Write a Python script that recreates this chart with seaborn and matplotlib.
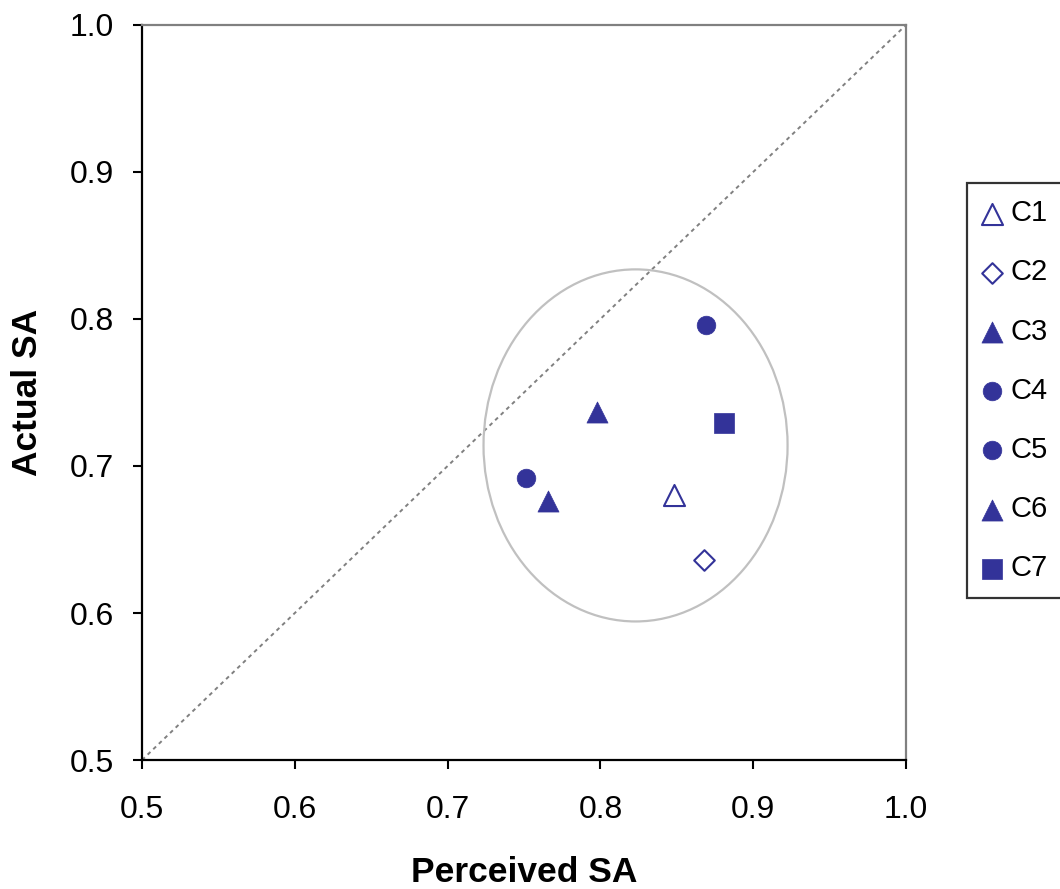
import matplotlib
matplotlib.use("Agg")
import matplotlib.pyplot as plt
import seaborn as sns
import pandas as pd
from matplotlib.patches import Ellipse

# Data
labels = ["C1", "C2", "C3", "C4", "C5", "C6", "C7"]
perceived = [0.848, 0.868, 0.798, 0.869, 0.751, 0.766, 0.881]
actual = [0.680, 0.636, 0.737, 0.796, 0.692, 0.676, 0.729]
markers = ["^", "D", "^", "o", "o", "^", "s"]
filled = [False, False, True, True, True, True, True]
x_ticks = [0.5, 0.6, 0.7, 0.8, 0.9, 1.0]
y_ticks = [0.5, 0.6, 0.7, 0.8, 0.9, 1.0]
ellipse_center = (0.823, 0.714)
ellipse_size = (0.199, 0.2395)

sns.set_theme(style="white")
plt.rcParams["font.family"] = ["Liberation Sans", "DejaVu Sans"]

navy = "#333399"
sizes = {"^": 230, "D": 110, "o": 180, "s": 190}

fig = plt.figure(figsize=(10.6, 8.89), dpi=100)
ax = fig.add_axes([0.134, 0.1451, 0.7207, 0.8268])

df = pd.DataFrame({"x": perceived, "y": actual, "label": labels})

# diagonal reference line
sns.lineplot(x=[0.5, 1.0], y=[0.5, 1.0], ax=ax, color="#808080",
             linestyle=(0, (2, 2)), linewidth=1.4, zorder=1, legend=False)

# ellipse
ax.add_patch(Ellipse(ellipse_center, ellipse_size[0], ellipse_size[1],
                     fill=False, edgecolor="#c0c0c0", linewidth=1.6, zorder=2))

for i, row in df.iterrows():
    m = markers[i]
    if filled[i]:
        fc = navy
        lw = 0.5
    else:
        fc = "white"
        lw = 1.5
    sns.scatterplot(x=[row["x"]], y=[row["y"]], ax=ax, marker=m, s=sizes[m],
                    color=navy, facecolor=fc, edgecolor=navy, linewidth=lw,
                    label=row["label"], zorder=3)

ax.set_xlim(0.5, 1.0)
ax.set_ylim(0.5, 1.0)
ax.set_xticks(x_ticks)
ax.set_yticks(y_ticks)
ax.set_xticklabels([f"{v:.1f}" for v in x_ticks])
ax.set_yticklabels([f"{v:.1f}" for v in y_ticks])
ax.tick_params(axis="both", direction="out", length=6.5, width=1.5,
               labelsize=23, pad=14, color="black", labelcolor="black",
               bottom=True, left=True)
ax.tick_params(axis="x", pad=19)

for s in ["left", "bottom"]:
    ax.spines[s].set_color("black")
    ax.spines[s].set_linewidth(1.6)
for s in ["top", "right"]:
    ax.spines[s].set_color("#808080")
    ax.spines[s].set_linewidth(1.6)
    ax.spines[s].set_visible(True)

ax.set_xlabel("Perceived SA", fontsize=25.5, fontweight="bold", labelpad=22,
              color="black")
ax.set_ylabel("Actual SA", fontsize=25.5, fontweight="bold", labelpad=18,
              color="black")

leg = ax.legend(loc="upper left", bbox_to_anchor=(0.912, 0.794),
                bbox_transform=fig.transFigure, borderaxespad=0,
                frameon=True, fancybox=False, fontsize=21,
                labelspacing=1.07, handlelength=0.6, handletextpad=0.35,
                borderpad=0.55)
for t in leg.get_texts():
    t.set_color("black")
leg.get_frame().set_edgecolor("black")
leg.get_frame().set_linewidth(1.6)

fig.savefig("out.png", dpi=100)
